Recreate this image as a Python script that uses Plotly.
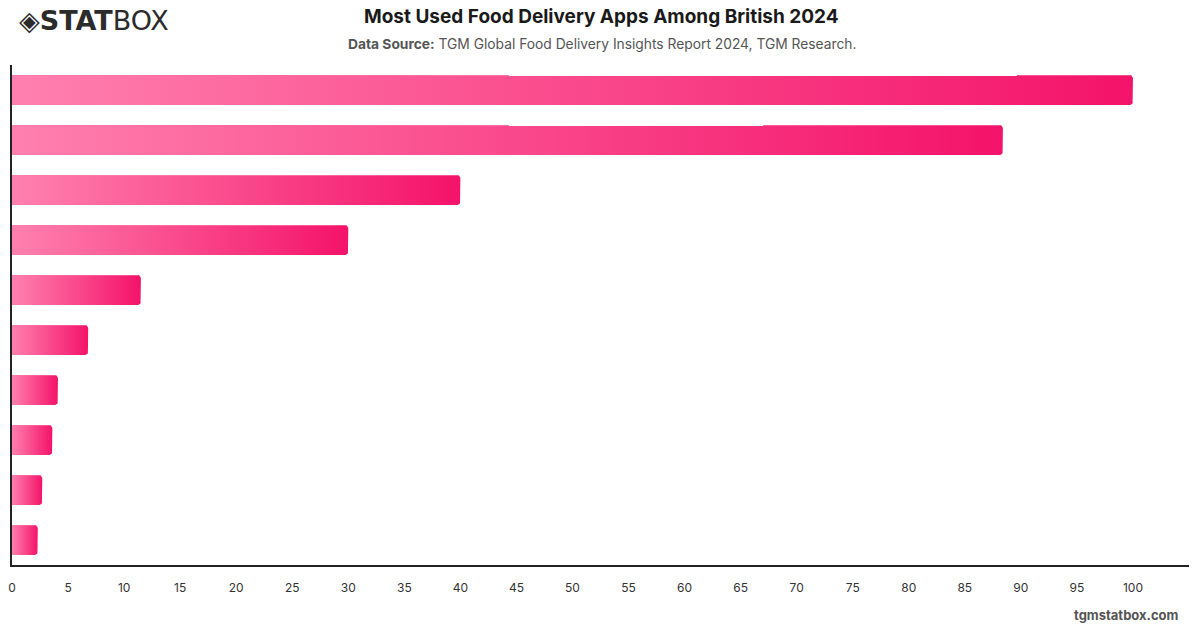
import numpy as np
import plotly.graph_objects as go

# ---- data ----
apps = ["Just Eat", "Deliveroo", "Uber Eats", "Domino's", "McDonald's",
        "Pizza Hut", "KFC", "Papa John's", "Gousto", "Other"]
usage = [100, 88.4, 40, 30, 11.5, 6.8, 4.1, 3.6, 2.7, 2.3]
x_ticks = list(range(0, 101, 5))

title_text = "Most Used Food Delivery Apps Among British 2024"
source_text = "TGM Global Food Delivery Insights Report 2024, TGM Research."

LIGHT = "#FF80AE"
DEEP = "#F4136A"

W, H = 1200, 628
ML, MR, MT, MB = 8, 11, 65, 63
X_MAX = 105.0
PLOT_W = W - ML - MR
PLOT_H = H - MT - MB
half = 0.3  # half bar thickness in category units

fig = go.Figure()

# corner radius in data units
rx = 3.5 * X_MAX / PLOT_W
ry = 3.5 * len(apps) / PLOT_H

for i, (name, v) in enumerate(zip(apps, usage)):
    y0, y1 = i - half, i + half
    r_x = min(rx, v / 2)
    t = np.linspace(0, np.pi / 2, 8)
    xs = [0, v - r_x]
    ys = [y0, y0]
    xs += list(v - r_x + r_x * np.sin(t))
    ys += list(y0 + ry - ry * np.cos(t))
    xs += list(v - r_x + r_x * np.cos(t))
    ys += list(y1 - ry + ry * np.sin(t))
    xs += [v - r_x, 0, 0]
    ys += [y1, y1, y0]
    fig.add_trace(go.Scatter(
        x=xs, y=ys, mode="lines", fill="toself",
        line=dict(width=0, color=DEEP),
        fillgradient=dict(type="horizontal",
                          colorscale=[[0, LIGHT], [1, DEEP]]),
        name=name, hoverinfo="skip", showlegend=False,
    ))


def px(x):
    return (x - ML) / PLOT_W


def py(y):
    return (H - MB - y) / PLOT_H


fig.update_layout(
    width=W, height=H,
    margin=dict(l=ML, r=MR, t=MT, b=MB),
    paper_bgcolor="white", plot_bgcolor="white",
    font=dict(family="Inter, Roboto, sans-serif", color="#333333"),
    xaxis=dict(
        range=[0, X_MAX], tickmode="array", tickvals=x_ticks,
        ticktext=[str(t) for t in x_ticks],
        showgrid=False, zeroline=False,
        showline=True, linecolor="#222222", linewidth=1.5,
        ticks="", ticklabelstandoff=11,
        tickfont=dict(size=12, color="#333333"),
        fixedrange=True,
    ),
    yaxis=dict(
        range=[len(apps) - 0.5, -0.5],
        showgrid=False, zeroline=False, showticklabels=False,
        showline=True, linecolor="#222222", linewidth=1.5, ticks="",
        fixedrange=True,
    ),
    annotations=[
        dict(text=f"<b>{title_text}</b>", x=px(600), y=py(17), xref="paper", yref="paper",
             showarrow=False, font=dict(size=19, color="#1a1a1a"), yanchor="middle"),
        dict(text=f"<b>Data Source:</b> {source_text}", x=px(600), y=py(44),
             xref="paper", yref="paper", showarrow=False,
             font=dict(size=13.8, color="#555555"), yanchor="middle"),
        dict(text="◈<b>STAT</b>BOX", x=px(13), y=py(21), xref="paper", yref="paper",
             showarrow=False, xanchor="left", yanchor="middle",
             font=dict(size=27, color="#2b2b2b", family="DejaVu Sans, sans-serif")),
        dict(text="<b>tgmstatbox.com</b>", x=px(1181), y=py(615), xref="paper", yref="paper",
             showarrow=False, xanchor="right", yanchor="middle",
             font=dict(size=13, color="#555555")),
    ],
)

fig.write_html("out.html")
